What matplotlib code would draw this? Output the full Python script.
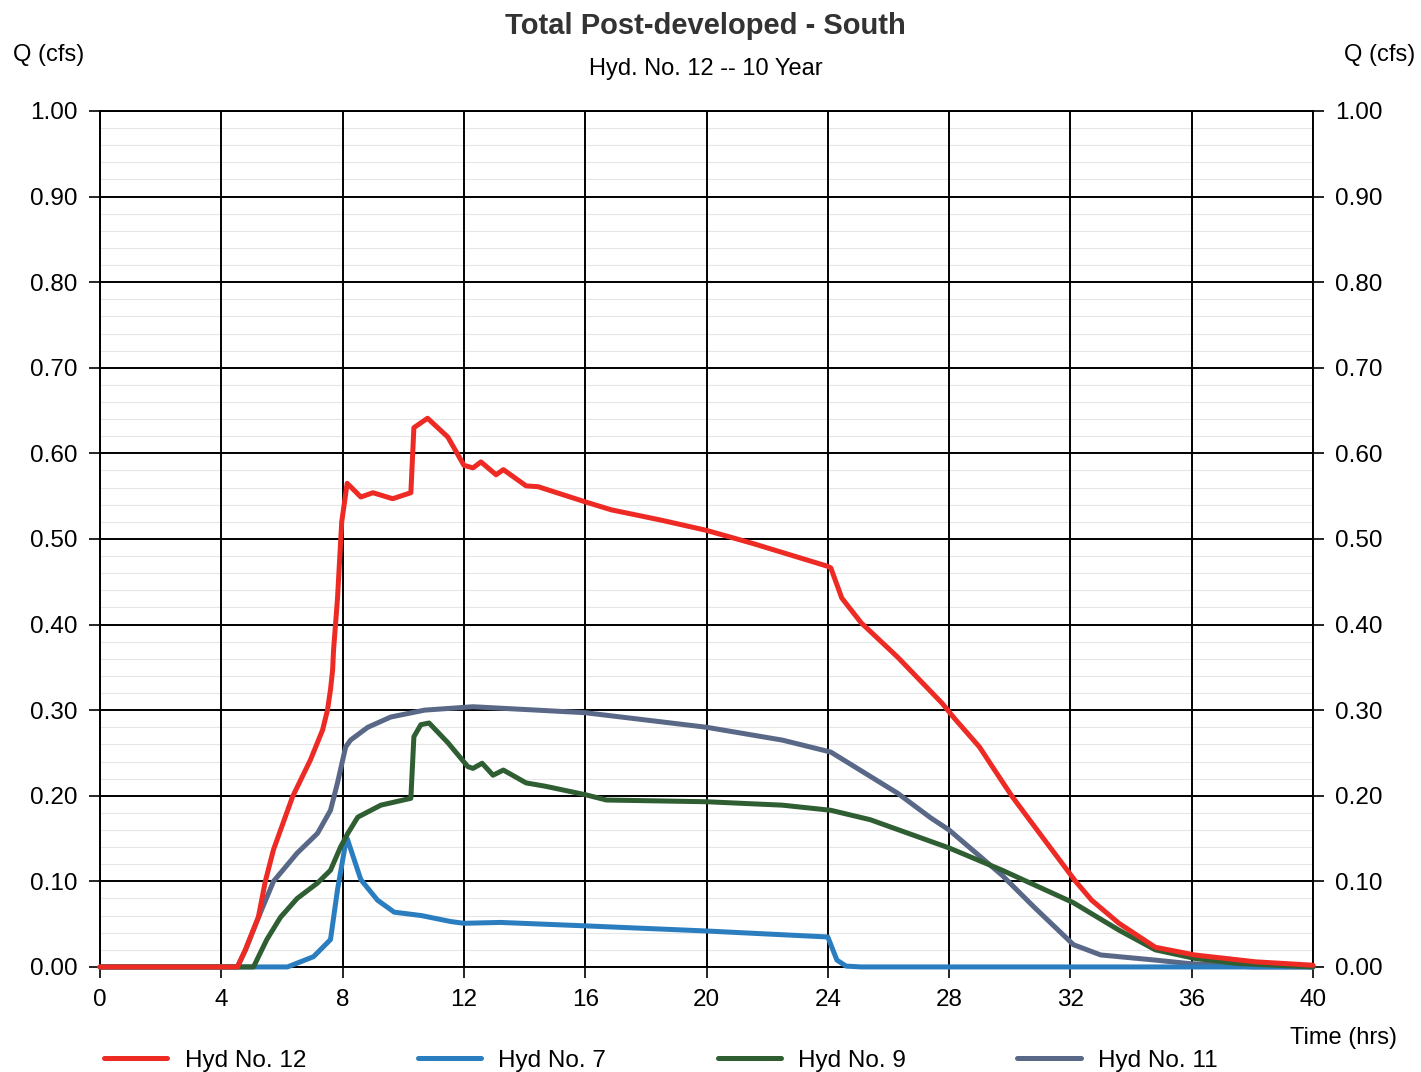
import numpy as np
import matplotlib
matplotlib.use('Agg')
import matplotlib.pyplot as plt
from matplotlib.ticker import MultipleLocator, FormatStrFormatter

plt.rcParams['font.family'] = ['Liberation Sans', 'DejaVu Sans']

# hydrograph values (time in hrs, Q in cfs)
t12 = [0, 4.53, 4.79, 5.22, 5.45, 5.72, 6.35, 6.94, 7.34, 7.5, 7.6, 7.67, 7.7, 7.83, 7.97,
       8.15, 8.6, 9.0, 9.65, 10.25, 10.35, 10.8, 11.47, 12.0, 12.3, 12.56, 13.06, 13.3, 14.05,
       14.45, 16.03, 16.86, 18.5, 20.0, 21.5, 24.0, 24.1, 24.46, 25.1, 26.3, 27.77, 28.16, 29.0,
       29.5, 30.08, 31.07, 32.17, 32.7, 33.6, 34.8, 36.1, 38.1, 40.0]
q12 = [0, 0, 0.02, 0.058, 0.10, 0.137, 0.199, 0.242, 0.277, 0.30, 0.324, 0.347, 0.37, 0.43,
       0.52, 0.565, 0.549, 0.554, 0.547, 0.554, 0.63, 0.641, 0.619, 0.586, 0.583, 0.590, 0.575,
       0.581, 0.562, 0.561, 0.543, 0.534, 0.522, 0.51, 0.495, 0.468, 0.466, 0.431, 0.402, 0.362,
       0.308, 0.291, 0.257, 0.23, 0.199, 0.152, 0.10, 0.078, 0.051, 0.023, 0.014, 0.006, 0.002]

t7 = [0, 6.18, 7.04, 7.6, 7.83, 8.1, 8.15, 8.6, 9.15, 9.7, 10.6, 11.57, 12.0, 13.2, 16.0, 20.0,
      24.0, 24.3, 24.6, 25.1, 40.0]
q7 = [0, 0, 0.012, 0.032, 0.09, 0.145, 0.15, 0.102, 0.078, 0.064, 0.06, 0.053, 0.051, 0.052,
      0.048, 0.042, 0.035, 0.008, 0.001, 0, 0]

t9 = [0, 5.06, 5.5, 5.95, 6.5, 7.17, 7.6, 7.93, 8.17, 8.5, 9.26, 10.25, 10.35, 10.58, 10.85,
      11.47, 12.13, 12.3, 12.6, 12.96, 13.3, 14.05, 14.7, 16.03, 16.7, 20.0, 22.5, 24.1, 25.4,
      28.0, 29.75, 32.1, 33.6, 34.8, 36.1, 37.5, 40.0]
q9 = [0, 0, 0.032, 0.058, 0.08, 0.098, 0.113, 0.14, 0.156, 0.175, 0.189, 0.197, 0.269, 0.283,
      0.285, 0.262, 0.234, 0.232, 0.238, 0.224, 0.23, 0.215, 0.211, 0.201, 0.195, 0.193, 0.189,
      0.183, 0.172, 0.139, 0.113, 0.075, 0.043, 0.02, 0.01, 0.004, 0]

t11 = [0, 4.53, 4.8, 5.19, 5.72, 6.5, 7.17, 7.6, 7.83, 8.1, 8.26, 8.83, 9.59, 10.7, 12.3, 16.0,
       20.0, 22.5, 24.1, 26.3, 27.4, 28.0, 29.75, 30.8, 32.1, 33.0, 34.8, 35.9, 38.0, 40.0]
q11 = [0, 0, 0.02, 0.055, 0.10, 0.133, 0.156, 0.183, 0.215, 0.257, 0.265, 0.28, 0.292, 0.30,
       0.304, 0.297, 0.28, 0.265, 0.251, 0.203, 0.174, 0.16, 0.107, 0.07, 0.026, 0.014, 0.008,
       0.004, 0, 0]

fig = plt.figure(figsize=(14.21, 10.72), dpi=100)
ax = fig.add_axes([0.0704, 0.098, 0.8536, 0.7985])

ax.set_xlim(0, 40)
ax.set_ylim(0, 1.0)
ax.xaxis.set_major_locator(MultipleLocator(4))
ax.yaxis.set_major_locator(MultipleLocator(0.1))
ax.yaxis.set_major_formatter(FormatStrFormatter('%.2f'))

# faint minor horizontal lines under the black grid
ax.hlines(np.arange(0.02, 1.0, 0.02), 0, 40, color='#e6e6e6', lw=0.8, zorder=0.1)
ax.grid(which='major', color='black', lw=1.4, zorder=0.5)
ax.set_axisbelow(True)
for s in ax.spines.values():
    s.set_linewidth(1.4)

ax.tick_params(which='major', direction='out', length=8, width=1.2, labelsize=17.5,
               right=True, labelright=True, pad=8)

kw = dict(lw=3.6, clip_on=False, solid_joinstyle='round', solid_capstyle='round')
ax.plot(t12, q12, color='#ee2a24', label='Hyd No. 12', zorder=5, **kw)
ax.plot(t7, q7, color='#2a7dbf', label='Hyd No. 7', zorder=4, **kw)
ax.plot(t9, q9, color='#2f5e33', label='Hyd No. 9', zorder=4, **kw)
ax.plot(t11, q11, color='#5a6888', label='Hyd No. 11', zorder=3, **kw)

fig.text(0.4965, 0.976, 'Total Post-developed - South', ha='center', va='center',
         fontsize=21, fontweight='bold', color='#333333')
fig.text(0.4965, 0.936, 'Hyd. No. 12 -- 10 Year', ha='center', va='center', fontsize=17)
fig.text(0.034, 0.949, 'Q (cfs)', ha='center', va='center', fontsize=17)
fig.text(0.971, 0.949, 'Q (cfs)', ha='center', va='center', fontsize=17)
fig.text(0.983, 0.032, 'Time (hrs)', ha='right', va='center', fontsize=17)

fig.legend(loc='lower left', bbox_to_anchor=(0.058, -0.02), ncol=4, frameon=False,
           fontsize=17.5, handlelength=2.6, handletextpad=0.7, columnspacing=4.6)

fig.savefig('out.png', dpi=100)
